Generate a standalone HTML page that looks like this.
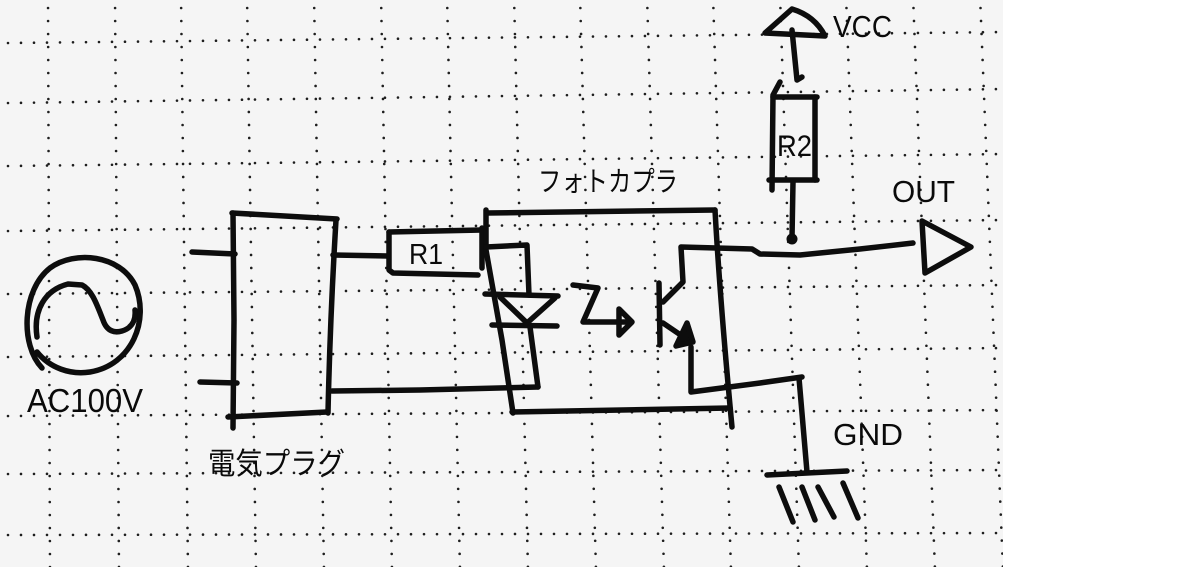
<!DOCTYPE html>
<html>
<head>
<meta charset="utf-8">
<style>
  html,body{margin:0;padding:0;background:#fff;}
  svg{display:block;}
  text{font-family:"Liberation Sans","Noto Sans CJK JP",sans-serif;fill:#0a0a0a;}
  .jp{font-family:"Liberation Sans","Noto Sans CJK JP",sans-serif;}
</style>
</head>
<body>
<svg width="1200" height="567" viewBox="0 0 1200 567" xmlns="http://www.w3.org/2000/svg">
  <defs>
    <clipPath id="paper"><rect x="0" y="0" width="1003" height="567"/></clipPath>
  </defs>
  <rect x="0" y="0" width="1200" height="567" fill="#ffffff"/>
  <rect x="0" y="0" width="1003" height="567" fill="#f5f5f5"/>

  <!-- dotted grid -->
  <g clip-path="url(#paper)" stroke="#1e1e1e" stroke-width="2.6" stroke-linecap="round" stroke-dasharray="0 13">
    <line x1="48" y1="-5" x2="50" y2="570"/>
    <line x1="115" y1="-5" x2="119" y2="570"/>
    <line x1="181" y1="-5" x2="188" y2="570"/>
    <line x1="247" y1="-5" x2="256" y2="570"/>
    <line x1="314" y1="-5" x2="324" y2="570"/>
    <line x1="381" y1="-5" x2="392" y2="570"/>
    <line x1="447" y1="-5" x2="460" y2="570"/>
    <line x1="514" y1="-5" x2="528" y2="570"/>
    <line x1="580" y1="-5" x2="596" y2="570"/>
    <line x1="647" y1="-5" x2="664" y2="570"/>
    <line x1="713" y1="-5" x2="731" y2="570"/>
    <line x1="780" y1="-5" x2="799" y2="570"/>
    <line x1="846" y1="-5" x2="867" y2="570"/>
    <line x1="913" y1="-5" x2="935" y2="570"/>
    <line x1="980" y1="-5" x2="1003" y2="570"/>

    <line x1="8" y1="43" x2="1003" y2="32"/>
    <line x1="8" y1="103" x2="1003" y2="89"/>
    <line x1="8" y1="166" x2="1003" y2="154"/>
    <line x1="8" y1="231" x2="1003" y2="220"/>
    <line x1="8" y1="294" x2="1003" y2="285"/>
    <line x1="8" y1="357" x2="1003" y2="348"/>
    <line x1="8" y1="416" x2="1003" y2="410"/>
    <line x1="8" y1="474" x2="1003" y2="470"/>
    <line x1="8" y1="535" x2="1003" y2="533"/>
  </g>

  <!-- circuit strokes -->
  <g fill="none" stroke="#0d0d0d" stroke-width="5.5" stroke-linecap="round" stroke-linejoin="round">
    <!-- AC source -->
    <path d="M42,368 C20,345 22,290 50,268 C75,250 120,255 135,285 C150,320 132,365 90,372 C70,375 50,368 37,352"/>
    <path d="M37,337 C33,310 45,290 68,284 L82,285 C92,290 97,305 103,320 C107,332 115,333 122,331 C132,328 136,320 135,310"/>

    <!-- plug box -->
    <path d="M232,213 L337,219"/>
    <path d="M233,213 L234,320 L233,428"/>
    <path d="M336,220 Q330,320 328,413"/>
    <path d="M228,417 L327,412"/>
    <path d="M192,252 L235,254"/>
    <path d="M200,382 L237,383"/>
    <path d="M333,255 L388,256"/>
    <path d="M332,391 L420,390 L538,387"/>

    <!-- R1 -->
    <path d="M389,232 L482,230"/>
    <path d="M389,232 L389,270 L393,273 L478,275"/>
    <path d="M482,228 L482,268"/>

    <!-- optocoupler box -->
    <path d="M487,213 L715,210"/>
    <path d="M486,210 L486,250 L502,340 L513,413"/>
    <path d="M512,412 L730,408"/>
    <path d="M715,210 Q720,300 732,427"/>

    <!-- LED -->
    <path d="M486,247 L527,245 L529,295"/>
    <path d="M485,294 L558,296"/>
    <path d="M500,297 L527,323 L555,298"/>
    <path d="M492,325 L557,326"/>
    <path d="M530,327 L538,387"/>

    <!-- light arrow -->
    <path d="M573,285 L598,288 L583,322 L630,322"/>
    <path d="M619,309 L632,322 L619,335 Z"/>

    <!-- phototransistor -->
    <path d="M659,283 L660,345"/>
    <path d="M663,302 L683,282 L681,247 L752,249 L760,254 L800,255 L860,249 L913,243"/>
    <path d="M663,323 L688,340"/>
    <path d="M687,323 L693,342 L676,346 Z" fill="#0d0d0d"/>
    <path d="M691,347 L691,392 L760,383 L802,377"/>
    <path d="M799,378 L807,472"/>

    <!-- GND -->
    <path d="M767,475 L847,471"/>
    <path d="M779,487 L793,522"/>
    <path d="M802,487 L815,520"/>
    <path d="M818,487 L834,517"/>
    <path d="M843,483 L858,518"/>

    <!-- R2 -->
    <path d="M773,97 L817,97"/>
    <path d="M780,82 L773,95 L772,190"/>
    <path d="M815,97 L815,180"/>
    <path d="M769,180 L817,180"/>
    <path d="M793,182 L792,238"/>

    <!-- VCC -->
    <path d="M792,30 L797,80 L802,77"/>
    <path d="M765,33 L792,9 Q815,16 825,36 Z"/>

    <!-- OUT -->
    <path d="M922,221 L971,247 L925,273 Z"/>
  </g>
  <circle cx="792" cy="239" r="5.5" fill="#0d0d0d"/>

  <!-- labels -->
  <text x="409" y="264" font-size="29" textLength="34" lengthAdjust="spacingAndGlyphs">R1</text>
  <text x="777" y="156" font-size="30" textLength="35" lengthAdjust="spacingAndGlyphs">R2</text>
  <text x="833" y="37" font-size="31" textLength="59" lengthAdjust="spacingAndGlyphs">VCC</text>
  <text x="892" y="202" font-size="31" textLength="63" lengthAdjust="spacingAndGlyphs">OUT</text>
  <text x="833" y="445" font-size="31" textLength="70" lengthAdjust="spacingAndGlyphs">GND</text>
  <text x="27" y="412" font-size="33" textLength="116" lengthAdjust="spacingAndGlyphs">AC100V</text>
  <text class="jp" x="208" y="474" font-size="30" textLength="137" lengthAdjust="spacingAndGlyphs">電気プラグ</text>
  <text class="jp" x="538" y="191" font-size="28" textLength="140" lengthAdjust="spacingAndGlyphs">フォトカプラ</text>
</svg>
</body>
</html>
